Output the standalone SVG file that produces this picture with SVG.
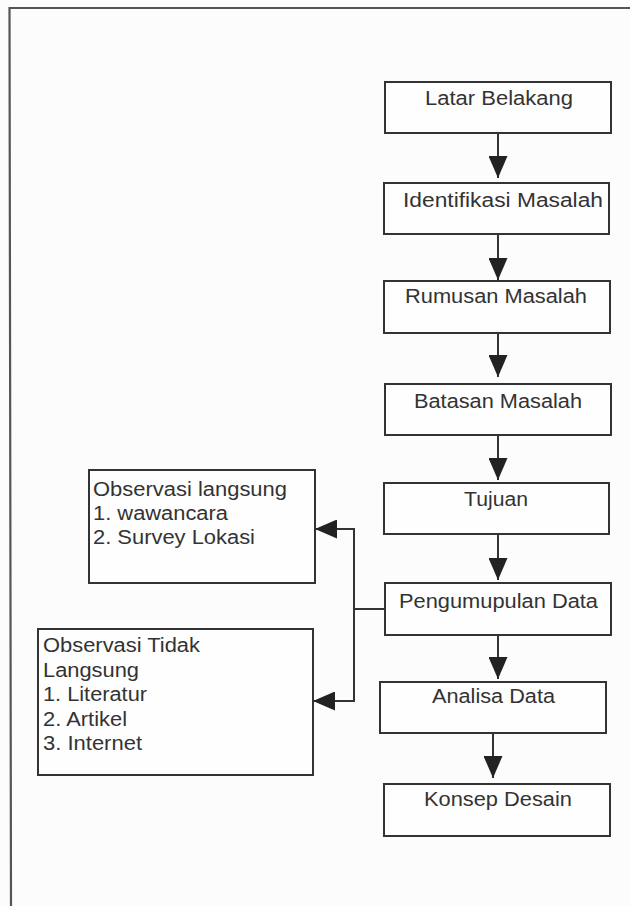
<svg xmlns="http://www.w3.org/2000/svg" width="630" height="906" viewBox="0 0 630 906">
<style>
.box{fill:#fefefe;stroke:#333;stroke-width:2}
.t{font-family:"Liberation Sans",Arial,sans-serif;font-size:20px;fill:#333}
.c{fill:none;stroke:#333;stroke-width:2}
.frame{fill:none;stroke:#555;stroke-width:2.2}
</style>
<defs>
<marker id="ah" markerUnits="userSpaceOnUse" viewBox="0 0 22 19" refX="22" refY="9.5" markerWidth="22" markerHeight="19" orient="auto">
<path d="M0,0 L22,9.5 L0,19 z" fill="#222"/>
</marker>
</defs>
<rect x="0" y="0" width="630" height="906" fill="#fcfcfc"/>
<path class="frame" d="M630,8 H9.5 L11,906"/>
<g id="connectors">
<path class="c" d="M498,133 V178" marker-end="url(#ah)"/>
<path class="c" d="M498,234 V280" marker-end="url(#ah)"/>
<path class="c" d="M498,333 V377" marker-end="url(#ah)"/>
<path class="c" d="M498,435 V480" marker-end="url(#ah)"/>
<path class="c" d="M498,534 V580" marker-end="url(#ah)"/>
<path class="c" d="M498,635 V679" marker-end="url(#ah)"/>
<path class="c" d="M493,733 V778" marker-end="url(#ah)"/>
<path class="c" d="M385,609 H354 V529 H315" marker-end="url(#ah)"/>
<path class="c" d="M354,609 V701 H313" marker-end="url(#ah)"/>
</g>
<g id="latar">
<rect class="box" x="385" y="82" width="226" height="51"/>
<text class="t" x="425" y="105" textLength="148" lengthAdjust="spacingAndGlyphs">Latar Belakang</text>
</g>
<g id="identifikasi">
<rect class="box" x="384" y="183" width="225" height="51"/>
<text class="t" x="403" y="207" textLength="200" lengthAdjust="spacingAndGlyphs">Identifikasi Masalah</text>
</g>
<g id="rumusan">
<rect class="box" x="384" y="281" width="226" height="52"/>
<text class="t" x="405" y="303" textLength="182" lengthAdjust="spacingAndGlyphs">Rumusan Masalah</text>
</g>
<g id="batasan">
<rect class="box" x="385" y="384" width="226" height="51"/>
<text class="t" x="414" y="408" textLength="168" lengthAdjust="spacingAndGlyphs">Batasan Masalah</text>
</g>
<g id="tujuan">
<rect class="box" x="384" y="483" width="225" height="51"/>
<text class="t" x="464" y="506" textLength="64" lengthAdjust="spacingAndGlyphs">Tujuan</text>
</g>
<g id="pengumpulan">
<rect class="box" x="385" y="583" width="226" height="52"/>
<text class="t" x="399" y="608" textLength="199" lengthAdjust="spacingAndGlyphs">Pengumupulan Data</text>
</g>
<g id="analisa">
<rect class="box" x="380" y="682" width="226" height="51"/>
<text class="t" x="432" y="703" textLength="123" lengthAdjust="spacingAndGlyphs">Analisa Data</text>
</g>
<g id="konsep">
<rect class="box" x="384" y="784" width="226" height="52"/>
<text class="t" x="424" y="806" textLength="148" lengthAdjust="spacingAndGlyphs">Konsep Desain</text>
</g>
<g id="obs-langsung">
<rect class="box" x="89" y="470" width="226" height="113"/>
<text class="t" x="93" y="496" textLength="194" lengthAdjust="spacingAndGlyphs">Observasi langsung</text>
<text class="t" x="93" y="520" textLength="135" lengthAdjust="spacingAndGlyphs">1. wawancara</text>
<text class="t" x="93" y="544" textLength="162" lengthAdjust="spacingAndGlyphs">2. Survey Lokasi</text>
</g>
<g id="obs-tidak">
<rect class="box" x="38" y="629" width="275" height="146"/>
<text class="t" x="43" y="652" textLength="157" lengthAdjust="spacingAndGlyphs">Observasi Tidak</text>
<text class="t" x="43" y="677" textLength="96" lengthAdjust="spacingAndGlyphs">Langsung</text>
<text class="t" x="43" y="701" textLength="104" lengthAdjust="spacingAndGlyphs">1. Literatur</text>
<text class="t" x="43" y="726" textLength="84" lengthAdjust="spacingAndGlyphs">2. Artikel</text>
<text class="t" x="43" y="750" textLength="99" lengthAdjust="spacingAndGlyphs">3. Internet</text>
</g>
</svg>
